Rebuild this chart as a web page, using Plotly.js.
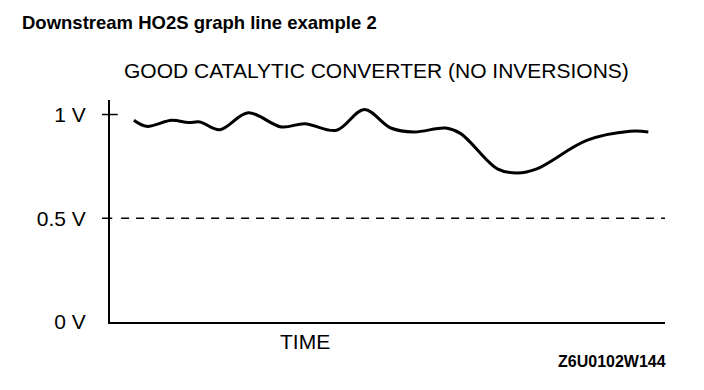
<!DOCTYPE html>
<html>
<head>
<meta charset="utf-8">
<script src="https://cdn.plot.ly/plotly-3.0.1.min.js"></script>
<style>html,body{margin:0;padding:0;background:#fff;}#chart{width:704px;height:390px;}</style>
</head>
<body>
<div id="chart"></div>
<script>
// Time (arbitrary units, 0-100 across the axis) and sensor voltage (V)
const timePoints = [4.3, 6.6, 11.1, 14.1, 16.2, 19.8, 24.9, 30.9, 35.1, 40.8, 45.8, 50.6, 54.8, 60.5, 63.2, 69.8, 73.4, 76.9, 85.9, 93.7, 97.0];
const voltage    = [0.972, 0.943, 0.972, 0.961, 0.964, 0.927, 1.008, 0.940, 0.956, 0.924, 1.024, 0.935, 0.916, 0.935, 0.908, 0.738, 0.718, 0.738, 0.875, 0.919, 0.916];
const tickValues = [0, 0.5, 1];
const tickLabels = ['0 V', '0.5 V', '1 V'];
const chartTitle = 'Downstream HO2S graph line example 2';
const subTitle = 'GOOD CATALYTIC CONVERTER (NO INVERSIONS)';
const xLabel = 'TIME';
const figureCode = 'Z6U0102W144';

const font = 'Liberation Sans, Arial, sans-serif';

const trace = {
  x: timePoints, y: voltage, type: 'scatter', mode: 'lines',
  line: {color: '#000', width: 3, shape: 'spline', smoothing: 1},
  hoverinfo: 'skip', showlegend: false
};

const tickLen = 8 / 555; // tick length as a fraction of the x domain
const layout = {
  width: 704, height: 390,
  margin: {l: 110, r: 39, t: 100, b: 68},
  paper_bgcolor: '#fff', plot_bgcolor: '#fff',
  font: {family: font, color: '#000'},
  title: {text: '<b>' + chartTitle + '</b>', font: {size: 18.5, family: font, color: '#000'},
          x: 22/704, xref: 'container', xanchor: 'left', y: 0.96, yref: 'container', yanchor: 'top'},
  xaxis: {range: [0, 100], showgrid: false, zeroline: false, showline: true, linecolor: '#000', linewidth: 2,
          showticklabels: false, ticks: '', fixedrange: true},
  yaxis: {range: [0, 1.07], showgrid: false, zeroline: false, showline: true, linecolor: '#000', linewidth: 2,
          tickvals: tickValues, ticktext: tickLabels, ticks: '',
          ticklabelstandoff: 18, tickfont: {size: 21, family: font, color: '#000'}, fixedrange: true},
  shapes: [
    {type: 'line', xref: 'x domain', yref: 'y', x0: 0.02, x1: 1, y0: 0.5, y1: 0.5,
     line: {color: '#000', width: 1.5, dash: '8px,7px'}},
    {type: 'line', xref: 'x domain', yref: 'y', x0: -tickLen, x1: 0.004, y0: 0.5, y1: 0.5,
     line: {color: '#000', width: 1.5}},
    {type: 'line', xref: 'x domain', yref: 'y', x0: -tickLen, x1: 0.014, y0: 1, y1: 1,
     line: {color: '#000', width: 1.5}}
  ],
  annotations: [
    {text: subTitle, xref: 'paper', yref: 'paper', x: 0.481, y: 1.135, xanchor: 'center', yanchor: 'middle',
     showarrow: false, font: {size: 21, family: font, color: '#000'}},
    {text: xLabel, xref: 'paper', yref: 'paper', x: 0.351, y: -0.086, xanchor: 'center', yanchor: 'middle',
     showarrow: false, font: {size: 21, family: font, color: '#000'}},
    {text: '<b>' + figureCode + '</b>', xref: 'paper', yref: 'paper', x: 1.005, y: -0.18, xanchor: 'right', yanchor: 'middle',
     showarrow: false, font: {size: 16, family: font, color: '#000'}}
  ]
};

Plotly.newPlot('chart', [trace], layout, {staticPlot: true, displayModeBar: false});
</script>
</body>
</html>
